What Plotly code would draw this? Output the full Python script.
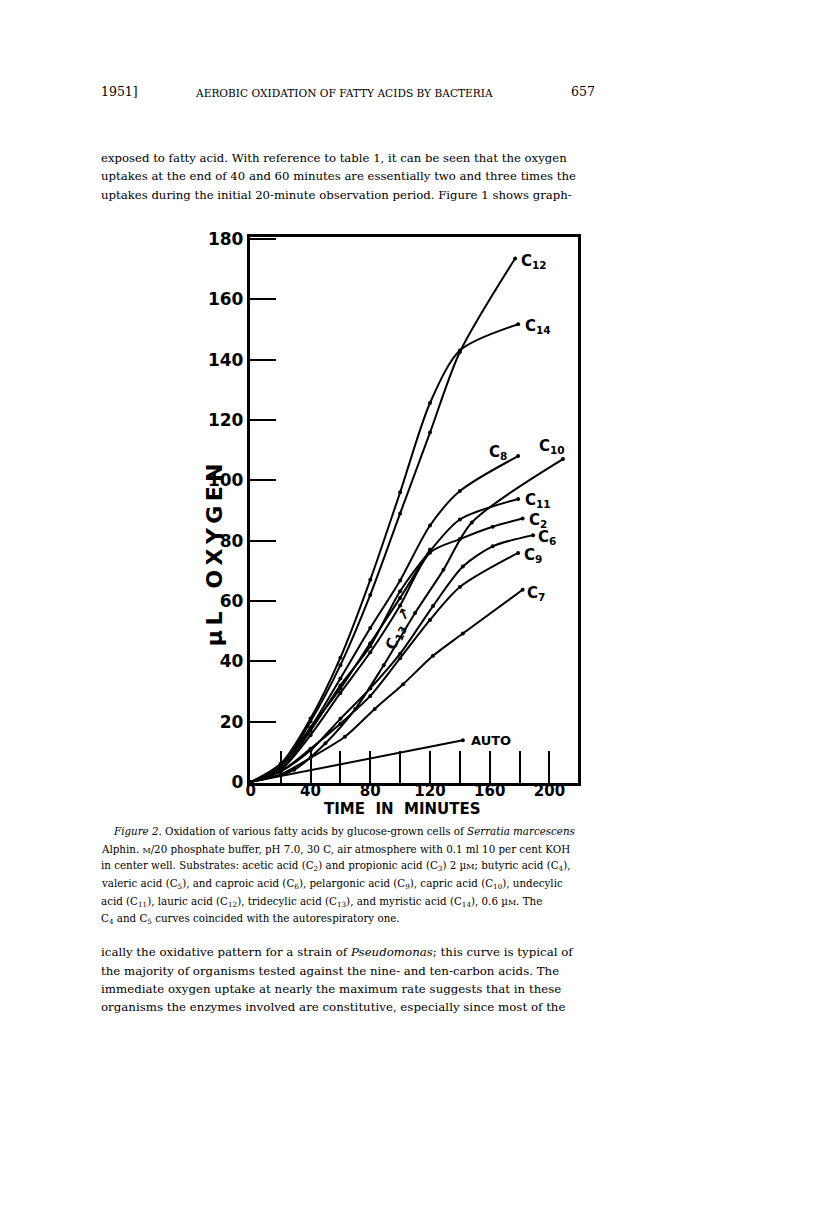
import plotly.graph_objects as go

# oxygen uptake (microlitres) vs time (minutes)
t_c12 = [0, 20, 40, 60, 80, 100, 120, 140, 177]
c12 = [0, 5, 20, 38.7, 62, 89, 115.8, 142.5, 173.5]
t_c14 = [0, 20, 40, 60, 80, 100, 120, 140, 179]
c14 = [0, 6, 21, 41.2, 67, 96, 125.6, 143, 151.7]
t_c8 = [0, 20, 40, 60, 80, 100, 120, 140, 179]
c8 = [0, 5, 18, 34.3, 51, 66.8, 85, 96.4, 108]
t_c10 = [0, 29, 50, 70, 89, 110, 129, 148, 209]
c10 = [0, 4, 12.8, 24.2, 38.7, 56, 70.3, 86, 107]
t_c11 = [0, 20, 40, 60, 80, 100, 120, 140, 179]
c11 = [0, 4, 17, 32, 45, 63.2, 76.5, 87, 93.8]
t_c2 = [0, 20, 40, 60, 80, 100, 120, 140, 162, 182]
c2 = [0, 4, 15.5, 29.5, 43, 58.5, 76, 80.5, 84.6, 87.3]
t_c13 = [0, 20, 40, 60, 80, 100, 120]
c13 = [0, 5, 18, 31, 46, 61, 77]
t_c6 = [0, 20, 40, 60, 80, 100, 122, 142, 162, 189]
c6 = [0, 3.5, 10.5, 20.9, 31, 42.5, 58.3, 71.4, 78.1, 81.8]
t_c9 = [0, 20, 40, 60, 80, 100, 120, 140, 179]
c9 = [0, 3.5, 11, 19.3, 28.5, 41, 53.7, 64.6, 75.9]
t_c7 = [0, 20, 40, 63, 83, 102, 122, 142, 182]
c7 = [0, 2.5, 8, 15, 24.2, 32.4, 41.8, 49.2, 63.7]
t_auto = [0, 142]
auto = [0, 13.8]

x_ticks = [0, 20, 40, 60, 80, 100, 120, 140, 160, 180, 200]
x_ticktext = ["0", "", "40", "", "80", "", "120", "", "160", "", "200"]
y_ticks = [0, 20, 40, 60, 80, 100, 120, 140, 160, 180]

series = [
    ("C<sub>12</sub>", t_c12, c12, "left", 4, -3),
    ("C<sub>14</sub>", t_c14, c14, "left", 5, -2),
    ("C<sub>8</sub>", t_c8, c8, "right", -9, 4),
    ("C<sub>10</sub>", t_c10, c10, "center", -11, 13),
    ("C<sub>11</sub>", t_c11, c11, "left", 5, -2),
    ("C<sub>2</sub>", t_c2, c2, "left", 4, -2),
    ("C<sub>6</sub>", t_c6, c6, "left", 3, -2),
    ("C<sub>9</sub>", t_c9, c9, "left", 4, -3),
    ("C<sub>7</sub>", t_c7, c7, "left", 2, -4),
    ("AUTO", t_auto, auto, "left", 6, 0),
    (None, t_c13, c13, None, 0, 0),
]

# the page body keeps its default 8px margin, so the figure is smaller
# than the window; the positions below are page pixels
W, H = 800, 1184


def px(x):
    return (x - 8) / W


def py(y):
    return 1 - (y - 8) / H


fig = go.Figure()
lab_font = dict(family="DejaVu Sans", size=15, color="black", weight="bold")

for name, t, v, anchor, dx, dy in series:
    fig.add_trace(go.Scatter(
        x=t, y=v, mode="lines+markers",
        line=dict(color="black", width=2, shape="spline", smoothing=0.8),
        marker=dict(color="black", size=4),
        showlegend=False, hoverinfo="skip"))
    if name:
        fig.add_annotation(x=t[-1], y=v[-1], xref="x", yref="y", text=name,
                           showarrow=False, xanchor=anchor, yanchor="middle",
                           xshift=dx, yshift=dy,
                           font=dict(lab_font, size=13 if name == "AUTO" else 15))

# inline label for the tridecylic acid curve
fig.add_annotation(x=t_c13[4], y=c13[4], xref="x", yref="y",
                   text="C<sub>13</sub> ↗", showarrow=False, textangle=-68,
                   xanchor="center", yanchor="middle",
                   xshift=28, yshift=14, font=lab_font)

axis_font = dict(family="DejaVu Sans", size=17, color="black", weight="bold")
fig.update_xaxes(range=[-0.66, 219.2], domain=[px(247), px(577)],
                 tickvals=x_ticks, ticktext=x_ticktext, ticks="inside",
                 ticklen=32, tickwidth=2, tickcolor="black",
                 ticklabelstandoff=-8,
                 showline=True, linewidth=3, linecolor="black", mirror=True,
                 showgrid=False, zeroline=False,
                 tickfont=dict(axis_font, size=15))
fig.update_yaxes(range=[-0.3, 180.7], domain=[py(786), py(232)],
                 tickvals=y_ticks, ticks="inside", ticklen=26, tickwidth=2,
                 tickcolor="black", showline=True, linewidth=3,
                 linecolor="black", mirror=True, showgrid=False,
                 zeroline=False, tickfont=axis_font)

fig.add_annotation(x=px(400), y=py(813), xref="paper", yref="paper",
                   text="TIME  IN  MINUTES", showarrow=False,
                   xanchor="center", yanchor="middle",
                   font=dict(axis_font, size=15))
fig.add_annotation(x=px(211), y=py(554), xref="paper", yref="paper",
                   text="µ\u2009L   O\u2009X\u2009Y\u2009G\u2009E\u2009N",
                   showarrow=False, textangle=-90,
                   xanchor="center", yanchor="middle",
                   font=dict(axis_font, size=22))

# page text
serif = dict(family="DejaVu Serif", size=11, color="black")


def line(text, x, y, size=11, anchor="left"):
    if anchor == "left":
        x -= 5  # annotation boxes carry a little side padding
    fig.add_annotation(x=px(x), y=py(y), xref="paper", yref="paper",
                       text=text, showarrow=False, xanchor=anchor,
                       yanchor="middle", font=dict(serif, size=size))


line("1951]", 100, 85, 12.5)
line("AEROBIC OXIDATION OF FATTY ACIDS BY BACTERIA", 342, 86, 10.6, "center")
line("657", 596, 85, 12.5, "right")

top_lines = [
    "exposed to fatty acid. With reference to table 1, it can be seen that the oxygen",
    "uptakes at the end of 40 and 60 minutes are essentially two and three times the",
    "uptakes during the initial 20-minute observation period. Figure 1 shows graph-",
]
for i, s in enumerate(top_lines):
    line(s, 100, 152 + i * 18.6, 11.7)

cap_lines = [
    "<i>Figure 2.</i> Oxidation of various fatty acids by glucose-grown cells of <i>Serratia marcescens</i>",
    "Alphin. <span style='font-size:8px'>M</span>/20 phosphate buffer, pH 7.0, 30 C, air atmosphere with 0.1 ml 10 per cent KOH",
    "in center well. Substrates: acetic acid (C<sub>2</sub>) and propionic acid (C<sub>3</sub>) 2 µ<span style='font-size:8px'>M</span>; butyric acid (C<sub>4</sub>),",
    "valeric acid (C<sub>5</sub>), and caproic acid (C<sub>6</sub>), pelargonic acid (C<sub>9</sub>), capric acid (C<sub>10</sub>), undecylic",
    "acid (C<sub>11</sub>), lauric acid (C<sub>12</sub>), tridecylic acid (C<sub>13</sub>), and myristic acid (C<sub>14</sub>), 0.6 µ<span style='font-size:8px'>M</span>. The",
    "C<sub>4</sub> and C<sub>5</sub> curves coincided with the autorespiratory one.",
]
for i, s in enumerate(cap_lines):
    line(s, 112 if i == 0 else 100, 835 + i * 17.9, 10.3)

bottom_lines = [
    "ically the oxidative pattern for a strain of <i>Pseudomonas</i>; this curve is typical of",
    "the majority of organisms tested against the nine- and ten-carbon acids. The",
    "immediate oxygen uptake at nearly the maximum rate suggests that in these",
    "organisms the enzymes involved are constitutive, especially since most of the",
]
for i, s in enumerate(bottom_lines):
    line(s, 100, 958 + i * 18.6, 11.8)

fig.update_layout(width=W, height=H, margin=dict(l=0, r=0, t=0, b=0),
                  paper_bgcolor="white", plot_bgcolor="white")

fig.write_html("out.html")
